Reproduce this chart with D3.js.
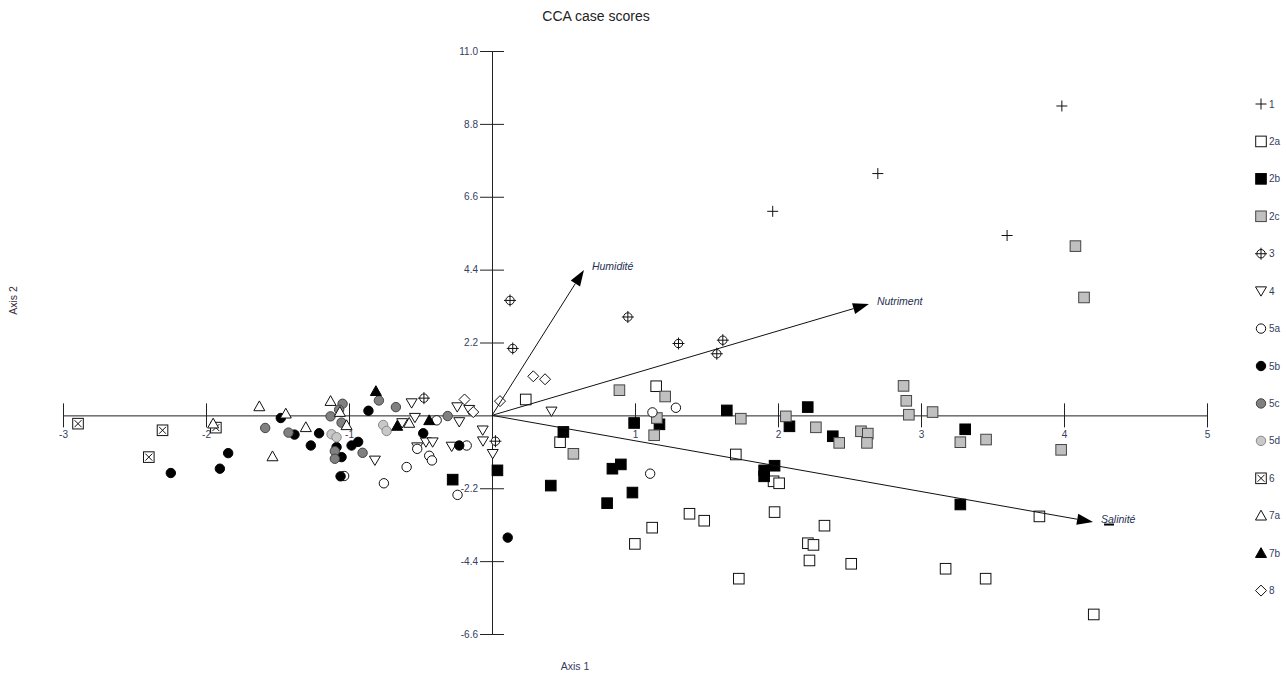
<!DOCTYPE html>
<html>
<head>
<meta charset="utf-8">
<script src="https://cdn.jsdelivr.net/npm/d3@7"></script>
<style>
  body { margin: 0; background: #fff; }
  svg { display: block; }
  text { font-family: "Liberation Sans", Arial, sans-serif; }
</style>
</head>
<body>
<svg id="chart" width="1286" height="675"></svg>
<script>
// ---- Case scores per group (Axis 1, Axis 2) ----
const groupNames = ["1", "2a", "2b", "2c", "3", "4", "5a", "5b", "5c", "5d", "6", "7a", "7b", "8"];

const g1 = [[3.985, 9.34], [2.698, 7.30], [1.963, 6.16], [3.602, 5.43]];
const g2a = [[0.236, 0.48], [1.148, 0.88], [0.476, -0.81], [1.705, -1.18], [1.969, -1.99], [2.008, -2.05],
  [1.381, -2.97], [1.484, -3.18], [1.120, -3.39], [0.999, -3.88], [1.976, -2.92], [2.325, -3.33],
  [2.209, -3.86], [2.248, -3.91], [2.220, -4.38], [2.512, -4.48], [1.726, -4.93], [3.172, -4.63],
  [3.452, -4.93], [3.828, -3.05], [4.208, -6.01]];
const g2b = [[0.994, -0.23], [1.171, -0.27], [1.642, 0.15], [2.080, -0.33], [2.208, 0.25], [2.383, -0.63],
  [3.309, -0.42], [0.499, -0.50], [0.038, -1.66], [0.411, -2.12], [0.842, -1.61], [0.901, -1.48],
  [0.982, -2.33], [0.805, -2.65], [1.903, -1.66], [1.903, -1.84], [1.976, -1.52], [3.275, -2.69],
  [-0.275, -1.94]];
const g2c = [[0.891, 0.76], [1.211, 0.57], [1.153, -0.08], [1.134, -0.60], [1.740, -0.10], [2.055, -0.03],
  [2.265, -0.36], [2.428, -0.83], [2.580, -0.48], [2.628, -0.55], [2.622, -0.83], [2.878, 0.89],
  [2.897, 0.44], [2.915, 0.02], [3.081, 0.10], [3.275, -0.81], [3.455, -0.73], [3.980, -1.04],
  [0.569, -1.16], [4.080, 5.11], [4.140, 3.56]];
const g3 = [[0.126, 3.47], [0.145, 2.02], [0.950, 2.97], [1.304, 2.17], [1.614, 2.27], [1.572, 1.86],
  [-0.476, 0.52], [0.024, -0.78]];
const g4 = [[0.416, 0.12], [-0.562, 0.37], [-0.539, -0.07], [-0.628, -0.23], [-0.462, -0.81], [-0.415, -0.81],
  [-0.523, -0.96], [-0.819, -1.36], [-0.243, 0.25], [-0.159, 0.17], [-0.229, -0.20], [-0.282, -0.94],
  [-0.065, -0.45], [-0.063, -0.78], [0.005, -1.16]];
const g5a = [[1.122, 0.09], [1.286, 0.23], [1.106, -1.76], [-0.387, -0.15], [-0.177, -0.91], [-0.523, -1.01],
  [-0.439, -1.22], [-0.420, -1.36], [-0.597, -1.56], [-0.756, -2.05], [-1.034, -1.83], [-0.241, -2.40]];
const g5b = [[-2.246, -1.74], [-1.903, -1.61], [-1.845, -1.14], [-1.477, -0.08], [-1.381, -0.58], [-1.209, -0.54],
  [-1.267, -0.91], [-1.087, -0.96], [-1.052, -1.26], [-0.982, -0.91], [-0.936, -0.80], [-1.059, -1.84],
  [-0.864, 0.14], [-0.481, -0.54], [-0.229, -0.91], [0.110, -3.69]];
const g5c = [[-1.586, -0.38], [-1.423, -0.52], [-1.045, 0.35], [-1.069, 0.17], [-1.129, -0.03], [-1.052, -0.22],
  [-1.099, -1.08], [-1.099, -1.31], [-0.905, -1.13], [-0.791, 0.45], [-0.672, 0.25], [-0.310, -0.02]];
const g5d = [[-1.122, -0.57], [-1.087, -0.66], [-0.761, -0.29], [-0.737, -0.47]];
const g6 = [[-2.895, -0.25], [-2.304, -0.45], [-2.400, -1.26], [-1.931, -0.37]];
const g7a = [[-1.950, -0.25], [-1.627, 0.27], [-1.442, 0.05], [-1.302, -0.36], [-1.535, -1.24], [-1.129, 0.43],
  [-1.064, 0.10], [-1.017, -0.30], [-0.579, -0.23]];
const g7b = [[-0.812, 0.73], [-0.663, -0.32], [-0.439, -0.15]];
const g8 = [[0.056, 0.43], [0.289, 1.18], [0.371, 1.09], [-0.192, 0.48], [-0.131, 0.10]];

// ---- Environmental variables (biplot arrows) ----
const envNames = ["Humidité", "Nutriment", "Salinité"];
const envAxis1 = [0.643, 2.636, 4.203];
const envAxis2 = [4.39, 3.36, -3.22];

// ---- Axis ticks ----
const xTicks = [-3, -2, -1, 1, 2, 3, 4, 5];
const yTicks = [11.0, 8.8, 6.6, 4.4, 2.2, -2.2, -4.4, -6.6];

// ---- Marker style per group ----
const groupData = [g1, g2a, g2b, g2c, g3, g4, g5a, g5b, g5c, g5d, g6, g7a, g7b, g8];
const groupShape = ["plus", "square", "square", "square", "crossCircle", "triDown", "circle", "circle",
  "circle", "circle", "boxX", "triUp", "triUp", "diamond"];
const groupFill = ["none", "#ffffff", "#000000", "#c0c0c0", "#ffffff", "#ffffff", "#ffffff", "#000000",
  "#808080", "#c8c8c8", "#ffffff", "#ffffff", "#000000", "#ffffff"];
const groupStroke = ["#111", "#111", "#000", "#444", "#111", "#111", "#111", "#000",
  "#444", "#888", "#111", "#111", "#000", "#111"];

const svg = d3.select("#chart");
const textColor = "#35405f";

const x = d3.scaleLinear().domain([-3, 5]).range([63, 1207]);
const y = d3.scaleLinear().domain([-6.6, 11]).range([634, 51]);

// Title
svg.append("text").attr("x", 596).attr("y", 21).attr("text-anchor", "middle")
  .attr("font-size", 14).attr("fill", "#222").text("CCA case scores");

// Axis titles
svg.append("text").attr("x", 575).attr("y", 670).attr("text-anchor", "middle")
  .attr("font-size", 10.5).attr("fill", textColor).text("Axis 1");
svg.append("text").attr("transform", "translate(17,300.5) rotate(-90)").attr("text-anchor", "middle")
  .attr("font-size", 10.5).attr("fill", "#3a2a40").text("Axis 2");

// X axis through the origin
const xAxis = svg.append("g").attr("transform", `translate(0,${y(0)})`)
  .call(d3.axisBottom(x).tickValues(xTicks).tickFormat(d => String(d))
    .tickSize(12).tickSizeOuter(0).tickPadding(4));
xAxis.selectAll(".tick line").attr("y1", -12).attr("y2", 12).attr("stroke", "#222");
xAxis.select(".domain").attr("stroke", "#222");
xAxis.selectAll(".tick text").attr("font-size", 10).attr("fill", textColor)
  .attr("font-family", "'Liberation Sans', Arial, sans-serif");

// Y axis through the origin
const yAxis = svg.append("g").attr("transform", `translate(${x(0)},0)`)
  .call(d3.axisLeft(y).tickValues(yTicks).tickFormat(d => d.toFixed(1))
    .tickSize(12).tickSizeOuter(0).tickPadding(2));
yAxis.selectAll(".tick line").attr("x1", -12).attr("x2", 12).attr("stroke", "#222");
yAxis.select(".domain").attr("stroke", "#222");
yAxis.selectAll(".tick text").attr("font-size", 10).attr("fill", textColor)
  .attr("font-family", "'Liberation Sans', Arial, sans-serif");

// Marker painter
function paintMarker(g, shape, fill, stroke) {
  if (shape === "plus") {
    g.append("path").attr("d", "M-5.5,0H5.5M0,-5.5V5.5").attr("stroke", stroke).attr("fill", "none");
  } else if (shape === "square") {
    g.append("rect").attr("x", -5.3).attr("y", -5.3).attr("width", 10.6).attr("height", 10.6)
      .attr("fill", fill).attr("stroke", stroke);
  } else if (shape === "crossCircle") {
    g.append("circle").attr("r", 4.2).attr("fill", fill).attr("stroke", stroke);
    g.append("path").attr("d", "M-6,0H6M0,-6V6").attr("stroke", stroke).attr("fill", "none");
  } else if (shape === "triDown") {
    g.append("path").attr("d", "M-5.5,-4.3L5.5,-4.3L0,5Z").attr("fill", fill).attr("stroke", stroke);
  } else if (shape === "triUp") {
    g.append("path").attr("d", "M0,-5.5L5.5,4.3L-5.5,4.3Z").attr("fill", fill).attr("stroke", stroke);
  } else if (shape === "circle") {
    g.append("circle").attr("r", 4.7).attr("fill", fill).attr("stroke", stroke);
  } else if (shape === "boxX") {
    g.append("rect").attr("x", -5.3).attr("y", -5.3).attr("width", 10.6).attr("height", 10.6)
      .attr("fill", fill).attr("stroke", stroke);
    g.append("path").attr("d", "M-3.5,-3.5L3.5,3.5M3.5,-3.5L-3.5,3.5").attr("stroke", stroke);
  } else if (shape === "diamond") {
    g.append("path").attr("d", "M0,-5.5L5.5,0L0,5.5L-5.5,0Z").attr("fill", fill).attr("stroke", stroke);
  }
}

// Case score points
const plot = svg.append("g");
groupData.forEach((pts, i) => {
  plot.selectAll(null).data(pts).enter().append("g")
    .attr("transform", d => `translate(${x(d[0])},${y(d[1])})`)
    .each(function () { paintMarker(d3.select(this), groupShape[i], groupFill[i], groupStroke[i]); });
});

// Biplot arrows for environmental variables
const arrows = svg.append("g");
envNames.forEach((name, i) => {
  const x0 = x(0), y0 = y(0), x1 = x(envAxis1[i]), y1 = y(envAxis2[i]);
  const ang = Math.atan2(y1 - y0, x1 - x0);
  const L = 16, W = 5.5;
  const bx = x1 - L * Math.cos(ang), by = y1 - L * Math.sin(ang);
  arrows.append("line").attr("x1", x0).attr("y1", y0).attr("x2", bx).attr("y2", by)
    .attr("stroke", "#111").attr("stroke-width", 1);
  const head = [
    [x1, y1],
    [bx + W * Math.sin(ang), by - W * Math.cos(ang)],
    [bx - W * Math.sin(ang), by + W * Math.cos(ang)]
  ];
  arrows.append("path").attr("d", d3.line()(head) + "Z").attr("fill", "#000");
  arrows.append("text").attr("x", x1 + 8).attr("y", y1 + 0.5)
    .attr("font-size", 10.5).attr("font-style", "italic").attr("fill", "#23304f").text(name);
  if (name === "Salinité") {
    arrows.append("line").attr("x1", x1 + 11).attr("x2", x1 + 21).attr("y1", y1 + 2.5).attr("y2", y1 + 2.5)
      .attr("stroke", "#000").attr("stroke-width", 2);
  }
});

// Legend
const legend = svg.append("g");
groupNames.forEach((name, i) => {
  const ly = 104 + i * 37.43;
  const g = legend.append("g").attr("transform", `translate(1261,${ly})`);
  paintMarker(g, groupShape[i], groupFill[i], groupStroke[i]);
  legend.append("text").attr("x", 1269).attr("y", ly + 3.5).attr("font-size", 10)
    .attr("fill", textColor).text(name);
});
</script>
</body>
</html>
